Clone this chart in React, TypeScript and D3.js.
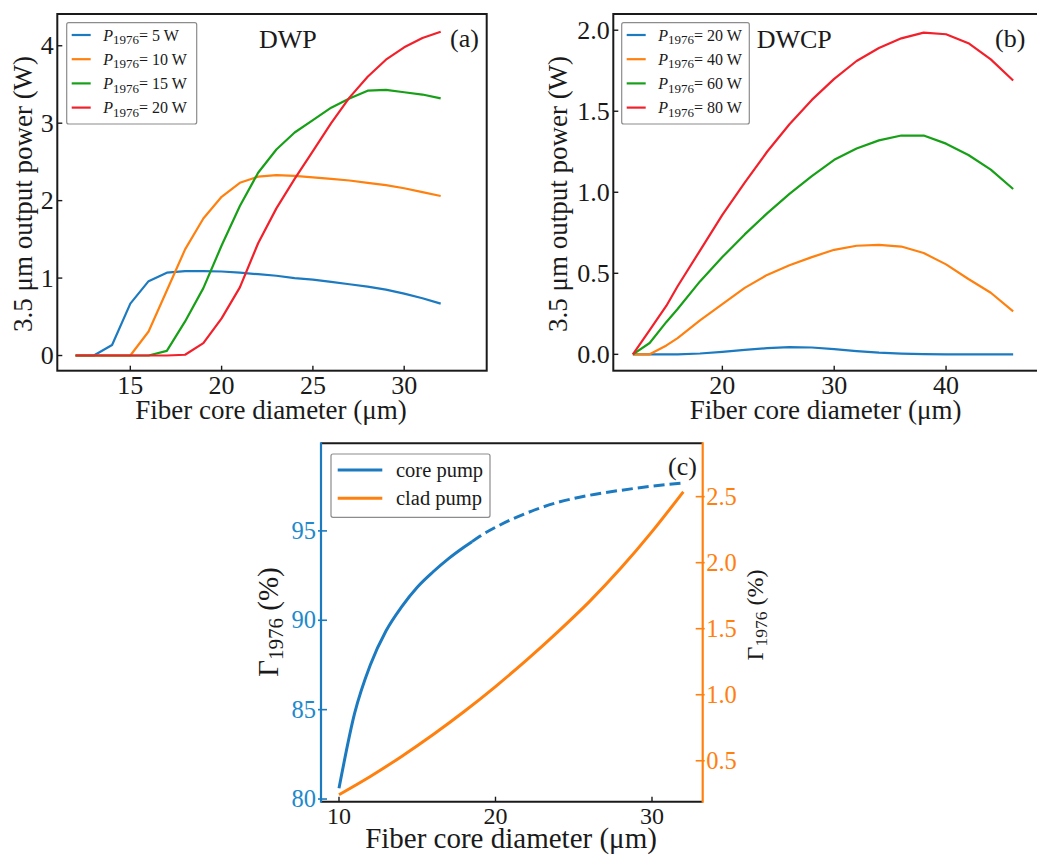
import React from 'react';
import * as d3 from 'd3';

const FONT = '"Liberation Serif", "Times New Roman", Times, serif';

// ---------- Panel (a): DWP ----------
const xsA = [12, 13, 14, 15, 16, 17, 18, 19, 20, 21, 22, 23, 24, 25, 26, 27, 28, 29, 30, 31, 32];
const a5 = [0, 0, 0.135, 0.67, 0.96, 1.07, 1.09, 1.09, 1.085, 1.07, 1.05, 1.03, 1.0, 0.98, 0.95, 0.92, 0.89, 0.85, 0.8, 0.74, 0.67];
const a10 = [0, 0, 0, 0, 0.31, 0.84, 1.37, 1.77, 2.05, 2.23, 2.31, 2.33, 2.32, 2.3, 2.28, 2.26, 2.23, 2.2, 2.16, 2.11, 2.06];
const a15 = [0, 0, 0, 0, 0, 0.06, 0.44, 0.87, 1.42, 1.93, 2.36, 2.66, 2.88, 3.04, 3.2, 3.32, 3.42, 3.43, 3.4, 3.37, 3.32];
const a20 = [0, 0, 0, 0, 0, 0, 0.01, 0.16, 0.48, 0.88, 1.45, 1.9, 2.28, 2.64, 3.0, 3.33, 3.6, 3.82, 3.98, 4.1, 4.18];
const powersA = ['5 W', '10 W', '15 W', '20 W'];
const ticksAX = [15, 20, 25, 30];
const ticksAY = [0, 1, 2, 3, 4];

// ---------- Panel (b): DWCP ----------
const xsB = [12, 13.5, 15, 16, 18, 20, 22, 24, 26, 28, 30, 32, 34, 36, 38, 40, 42, 44, 46];
const b20 = [0, 0, 0, 0, 0.005, 0.015, 0.028, 0.038, 0.044, 0.042, 0.032, 0.02, 0.01, 0.004, 0.001, 0, 0, 0, 0];
const b40 = [0, 0, 0.055, 0.1, 0.21, 0.31, 0.41, 0.49, 0.55, 0.6, 0.645, 0.67, 0.675, 0.665, 0.625, 0.555, 0.465, 0.38, 0.265];
const b60 = [0, 0.07, 0.2, 0.28, 0.45, 0.6, 0.74, 0.87, 0.99, 1.1, 1.2, 1.27, 1.32, 1.35, 1.35, 1.3, 1.23, 1.14, 1.02];
const b80 = [0, 0.15, 0.3, 0.42, 0.64, 0.86, 1.06, 1.25, 1.42, 1.57, 1.7, 1.81, 1.89, 1.95, 1.985, 1.975, 1.92, 1.82, 1.69];
const powersB = ['20 W', '40 W', '60 W', '80 W'];
const ticksBX = [20, 30, 40];
const ticksBY = [0, 0.5, 1, 1.5, 2];

// ---------- Panel (c): overlap factor ----------
const xsCoreSolid = [10, 11, 12, 13, 14, 15, 16, 17, 18, 18.5];
const coreSolid = [80.6, 84.8, 87.5, 89.4, 90.75, 91.85, 92.7, 93.45, 94.1, 94.4];
const xsCoreDash = [18.5, 19, 20, 22, 24, 26, 28, 30, 32];
const coreDash = [94.4, 94.7, 95.2, 96.0, 96.6, 96.99, 97.27, 97.5, 97.68];
const xsClad = [10, 12, 14, 16, 18, 20, 22, 24, 26, 28, 30, 32];
const clad = [0.243, 0.381, 0.533, 0.697, 0.873, 1.062, 1.264, 1.478, 1.705, 1.957, 2.235, 2.537];
const ticksCX = [10, 20, 30];
const ticksCL = [80, 85, 90, 95];
const ticksCR = [0.5, 1, 1.5, 2, 2.5];
const legendC = ['core pump', 'clad pump'];

const COLORS = ['#1c7ac0', '#ff800e', '#17a017', '#f2202a'];
const BLUE = '#1c7ac0';
const BLUE_TXT = '#2089cc';
const ORANGE = '#ff800e';
const INK = '#1a1a1a';

// scales
const xA = d3.scaleLinear().domain([11, 34.52]).range([57.3, 486.7]);
const yA = d3.scaleLinear().domain([-0.196, 4.41]).range([370.7, 14]);
const xB = d3.scaleLinear().domain([10.25, 48.4]).range([613.3, 1040]);
const yB = d3.scaleLinear().domain([-0.101, 2.1]).range([370.7, 14]);
const xC = d3.scaleLinear().domain([8.85, 33.24]).range([321, 702.7]);
const yCL = d3.scaleLinear().domain([79.85, 99.9]).range([801.7, 443.3]);
const yCR = d3.scaleLinear().domain([0.19, 2.904]).range([801.7, 443.3]);

const mkLine = (xs: number[], x: any, y: any, curve: any = d3.curveLinear) =>
  d3.line<number>().x((_, i) => x(xs[i])).y((v) => y(v)).curve(curve);

const f1 = d3.format('.1f');

function Legend({ x, y, w, h, items, colors, sub }: any) {
  return (
    <g>
      <rect x={x} y={y} width={w} height={h} rx={2} fill="white" stroke="#8c8c8c" strokeWidth={1.2} />
      {items.map((t: string, i: number) => {
        const ly = y + 12.3 + i * 24.2;
        return (
          <g key={t}>
            <line x1={x + 5} x2={x + 24} y1={ly} y2={ly} stroke={colors[i]} strokeWidth={2.2} />
            <text x={x + 36.5} y={ly + 5.7} fontFamily={FONT} fontSize={16} fill={INK}>
              <tspan fontStyle="italic">P</tspan>
              <tspan fontSize={13} dy={3.5}>{sub}</tspan>
              <tspan dy={-3.5}>{'= ' + t}</tspan>
            </text>
          </g>
        );
      })}
    </g>
  );
}

function PanelAB({ xs, series, x, y, ticksX, ticksY, fmtY, left, right, top, bottom, labels, tag, name, nameX, tagX, legendX, yLabelX }: any) {
  const xMid = (left + right) / 2;
  return (
    <g>
      {series.map((s: number[], i: number) => (
        <path key={i} d={mkLine(xs, x, y)(s) as string} fill="none" stroke={COLORS[i]} strokeWidth={2.2} strokeLinejoin="round" />
      ))}
      <rect x={left} y={top} width={right - left} height={bottom - top} fill="none" stroke={INK} strokeWidth={2} />
      {ticksX.map((t: number) => (
        <g key={'x' + t}>
          <line x1={x(t)} x2={x(t)} y1={bottom} y2={bottom - 5} stroke={INK} strokeWidth={1.4} />
          <text x={x(t)} y={bottom + 23.3} textAnchor="middle" fontFamily={FONT} fontSize={26} fill={INK}>{t}</text>
        </g>
      ))}
      {ticksY.map((t: number) => (
        <g key={'y' + t}>
          <line x1={left} x2={left + 5} y1={y(t)} y2={y(t)} stroke={INK} strokeWidth={1.4} />
          <text x={left - 3.5} y={y(t) + 8.6} textAnchor="end" fontFamily={FONT} fontSize={26} fill={INK}>{fmtY(t)}</text>
        </g>
      ))}
      <text x={xMid - 1} y={419.3} textAnchor="middle" fontFamily={FONT} fontSize={27} fill={INK}>Fiber core diameter (μm)</text>
      <text transform={`translate(${yLabelX},194) rotate(-90)`} textAnchor="middle" fontFamily={FONT} fontSize={27} fill={INK}>3.5 μm output power (W)</text>
      <Legend x={legendX} y={22.7} w={legendX === 66.7 ? 130 : 127.6} h={101.3} items={labels} colors={COLORS} sub="1976" />
      <text x={nameX} y={48.3} fontFamily={FONT} fontSize={26} fill={INK}>{name}</text>
      <text x={tagX} y={46.5} fontFamily={FONT} fontSize={26} fill={INK}>{tag}</text>
    </g>
  );
}

function PanelC() {
  const left = 321, right = 702.7, top = 443.3, bottom = 801.7;
  return (
    <g>
      <path d={mkLine(xsClad, xC, yCR, d3.curveMonotoneX)(clad) as string} fill="none" stroke={ORANGE} strokeWidth={3} />
      <path d={mkLine(xsCoreSolid, xC, yCL, d3.curveMonotoneX)(coreSolid) as string} fill="none" stroke={BLUE} strokeWidth={3} />
      <path d={mkLine(xsCoreDash, xC, yCL, d3.curveMonotoneX)(coreDash) as string} fill="none" stroke={BLUE} strokeWidth={3} strokeDasharray="11,5" />
      <line x1={left} x2={right} y1={top} y2={top} stroke={INK} strokeWidth={2} />
      <line x1={left} x2={right} y1={bottom} y2={bottom} stroke={INK} strokeWidth={2} />
      <line x1={left} x2={left} y1={top - 1} y2={bottom + 1} stroke={BLUE} strokeWidth={2.2} />
      <line x1={right} x2={right} y1={top - 1} y2={bottom + 1} stroke={ORANGE} strokeWidth={2.2} />
      {ticksCX.map((t) => (
        <g key={'x' + t}>
          <line x1={xC(t)} x2={xC(t)} y1={bottom} y2={bottom - 5} stroke={INK} strokeWidth={1.4} />
          <text x={xC(t)} y={823.8} textAnchor="middle" fontFamily={FONT} fontSize={24} fill={INK}>{t}</text>
        </g>
      ))}
      {ticksCL.map((t) => (
        <g key={'l' + t}>
          <line x1={left - 3} x2={left + 6} y1={yCL(t)} y2={yCL(t)} stroke={BLUE} strokeWidth={1.6} />
          <text x={left - 5} y={yCL(t) + 8.2} textAnchor="end" fontFamily={FONT} fontSize={24.5} fill={BLUE_TXT}>{t}</text>
        </g>
      ))}
      {ticksCR.map((t) => (
        <g key={'r' + t}>
          <line x1={right - 7} x2={right + 2} y1={yCR(t)} y2={yCR(t)} stroke={ORANGE} strokeWidth={1.6} />
          <text x={right + 3.5} y={yCR(t) + 8.2} textAnchor="start" fontFamily={FONT} fontSize={24.5} fill={ORANGE}>{f1(t)}</text>
        </g>
      ))}
      <text x={511} y={847.7} textAnchor="middle" fontFamily={FONT} fontSize={29} fill={INK}>Fiber core diameter (μm)</text>
      <text transform="translate(278,622) rotate(-90)" textAnchor="middle" fontFamily={FONT} fontSize={29} fill={INK}>
        <tspan>Γ</tspan>
        <tspan fontSize={21} dy={5}>1976</tspan>
        <tspan dy={-5}>{' (%)'}</tspan>
      </text>
      <text transform="translate(763,615) rotate(-90)" textAnchor="middle" fontFamily={FONT} fontSize={24} fill={INK}>
        <tspan>Γ</tspan>
        <tspan fontSize={17.5} dy={4}>1976</tspan>
        <tspan dy={-4}>{' (%)'}</tspan>
      </text>
      <rect x={331} y={454} width={159} height={63.3} rx={2} fill="white" stroke="#8c8c8c" strokeWidth={1.2} />
      {legendC.map((t, i) => {
        const ly = 470 + i * 28.3;
        return (
          <g key={t}>
            <line x1={337.7} x2={382.3} y1={ly} y2={ly} stroke={i === 0 ? BLUE : ORANGE} strokeWidth={3} />
            <text x={396} y={ly + 6.7} fontFamily={FONT} fontSize={20.5} fill={INK}>{t}</text>
          </g>
        );
      })}
      <text x={668} y={475} fontFamily={FONT} fontSize={26} fill={INK}>(c)</text>
    </g>
  );
}

export default function App() {
  return (
    <svg width={1037} height={859} style={{ position: 'absolute', left: 0, top: 0, background: 'white' }}>
      <rect x={0} y={0} width={1037} height={859} fill="white" />
      <PanelAB xs={xsA} series={[a5, a10, a15, a20]} x={xA} y={yA} ticksX={ticksAX} ticksY={ticksAY}
        fmtY={(t: number) => String(t)} left={57.3} right={486.7} top={14} bottom={370.7}
        labels={powersA} tag="(a)" name="DWP" nameX={259} tagX={450} legendX={66.7} yLabelX={32} />
      <PanelAB xs={xsB} series={[b20, b40, b60, b80]} x={xB} y={yB} ticksX={ticksBX} ticksY={ticksBY}
        fmtY={(t: number) => f1(t)} left={613.3} right={1040} top={14} bottom={370.7}
        labels={powersB} tag="(b)" name="DWCP" nameX={756.7} tagX={995} legendX={621.7} yLabelX={567} />
      <PanelC />
    </svg>
  );
}
